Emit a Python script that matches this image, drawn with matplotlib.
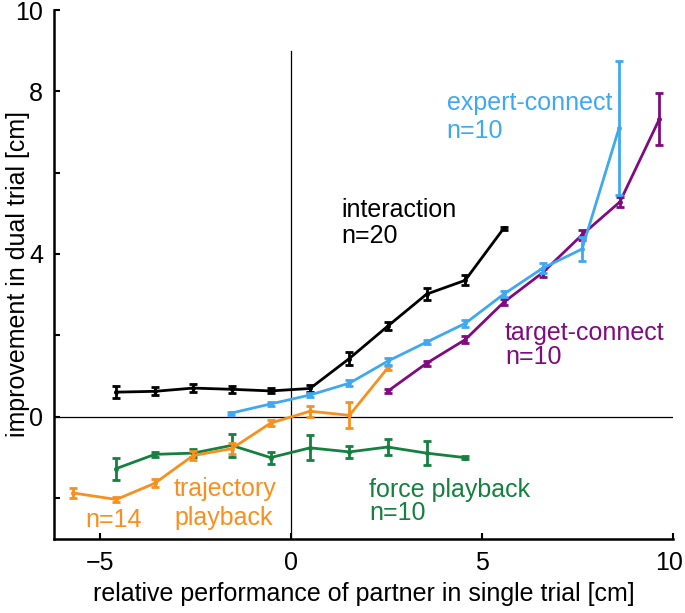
import matplotlib
matplotlib.use("Agg")
import matplotlib.pyplot as plt
import matplotlib.transforms as mtrans

plt.rcParams['font.family'] = ['Liberation Sans', 'DejaVu Sans']

# ---- data ----
x_inter = [-4.57, -3.56, -2.56, -1.55, -0.53, 0.50, 1.52, 2.53, 3.55, 4.56, 5.57]
y_inter = [0.60, 0.62, 0.70, 0.67, 0.63, 0.69, 1.42, 2.22, 3.01, 3.35, 4.63]
e_inter = [0.14, 0.10, 0.09, 0.08, 0.06, 0.08, 0.16, 0.10, 0.15, 0.12, 0.03]

x_expert = [-1.58, -0.53, 0.50, 1.53, 2.53, 3.55, 4.56, 5.57, 6.59, 7.62, 8.59]
y_expert = [0.08, 0.31, 0.53, 0.82, 1.36, 1.83, 2.29, 3.01, 3.65, 4.12, 7.10]
e_expert = [0.04, 0.05, 0.06, 0.08, 0.08, 0.05, 0.08, 0.07, 0.12, 0.30, 1.65]

x_target = [2.53, 3.55, 4.56, 5.57, 6.59, 7.62, 8.61, 9.64]
y_target = [0.62, 1.31, 1.89, 2.81, 3.54, 4.47, 5.28, 7.31]
e_target = [0.05, 0.06, 0.08, 0.07, 0.10, 0.12, 0.12, 0.64]

x_traj = [-5.70, -4.57, -3.56, -2.56, -1.55, -0.53, 0.50, 1.53, 2.53]
y_traj = [-1.88, -2.04, -1.64, -0.96, -0.79, -0.16, 0.13, 0.03, 1.19]
e_traj = [0.12, 0.07, 0.10, 0.12, 0.14, 0.07, 0.14, 0.32, 0.05]

x_force = [-4.57, -3.56, -2.56, -1.55, -0.53, 0.50, 1.53, 2.53, 3.55, 4.55]
y_force = [-1.28, -0.93, -0.90, -0.71, -1.01, -0.77, -0.87, -0.75, -0.90, -1.01]
e_force = [0.27, 0.06, 0.10, 0.29, 0.15, 0.31, 0.15, 0.20, 0.29, 0.03]

x_ticks = [-5, 0, 5, 10]
x_ticklabels = ['\u22125', '0', '5', '10']
y_ticks = [-2, 0, 2, 4, 6, 8, 10]
y_ticklabels = ['', '0', '', '4', '', '8', '10']

C_BLACK = '#000000'
C_BLUE = '#3fa9f0'
C_PURPLE = '#800b80'
C_ORANGE = '#f7901e'
C_GREEN = '#15803f'

fig = plt.figure(figsize=(6.85, 6.13), dpi=100)
W, H = 685, 613
ax = fig.add_axes([54 / W, 1 - 538.5 / H, (673 - 54) / W, (538.5 - 10) / H])

ax.set_xlim(-6.2, 10)
ax.set_ylim(-3, 10)

# reference lines
ax.axhline(0, color='black', lw=0.9, zorder=1)
ax.plot([0, 0], [-3, 9], color='black', lw=0.9, zorder=1)

def series(x, y, e, c, z):
    ax.errorbar(x, y, yerr=e, color=c, lw=2.0, elinewidth=2.0, capsize=2.6,
                capthick=2.0, marker='o', ms=2.5, zorder=z)

series(x_force, y_force, e_force, C_GREEN, 3)
series(x_traj, y_traj, e_traj, C_ORANGE, 4)
series(x_inter, y_inter, e_inter, C_BLACK, 5)
series(x_target, y_target, e_target, C_PURPLE, 6)
series(x_expert, y_expert, e_expert, C_BLUE, 7)

fs = 18
ax.text(1.33, 4.92, 'interaction', color=C_BLACK, fontsize=fs, va='baseline')
ax.text(1.33, 4.26, 'n=20', color=C_BLACK, fontsize=fs, va='baseline')
ax.text(4.08, 7.54, 'expert-connect', color=C_BLUE, fontsize=fs, va='baseline')
ax.text(4.08, 6.85, 'n=10', color=C_BLUE, fontsize=fs, va='baseline')
ax.text(5.60, 1.88, 'target-connect', color=C_PURPLE, fontsize=fs, va='baseline')
ax.text(5.60, 1.29, 'n=10', color=C_PURPLE, fontsize=fs, va='baseline')
ax.text(2.05, -1.99, 'force playback', color=C_GREEN, fontsize=fs, va='baseline')
ax.text(2.05, -2.55, 'n=10', color=C_GREEN, fontsize=fs, va='baseline')
ax.text(-3.06, -1.96, 'trajectory', color=C_ORANGE, fontsize=fs, va='baseline')
ax.text(-3.04, -2.67, 'playback', color=C_ORANGE, fontsize=fs, va='baseline')
ax.text(-5.39, -2.71, 'n=14', color=C_ORANGE, fontsize=fs, va='baseline')

for s in ['top', 'right']:
    ax.spines[s].set_visible(False)
for s in ['left', 'bottom']:
    ax.spines[s].set_linewidth(1.8)

ax.set_xticks(x_ticks)
ax.set_xticklabels(x_ticklabels)
ax.set_yticks(y_ticks)
ax.set_yticklabels(y_ticklabels)
ax.tick_params(direction='in', length=4.5, width=1.5, labelsize=18)
ax.tick_params(axis='x', pad=9)
ax.tick_params(axis='y', pad=8)

# nudge the last x tick label so it stays inside the figure
last = ax.get_xticklabels()[-1]
last.set_transform(last.get_transform() +
                   mtrans.ScaledTranslation(-3 / 72, 0, fig.dpi_scale_trans))

ax.set_xlabel('relative performance of partner in single trial [cm]', fontsize=18, labelpad=5)
ax.set_ylabel('improvement in dual trial [cm]', fontsize=18, va='center')
ax.yaxis.set_label_coords((18 - 54) / (673 - 54), 0.5)

fig.savefig('out.png', dpi=100)
